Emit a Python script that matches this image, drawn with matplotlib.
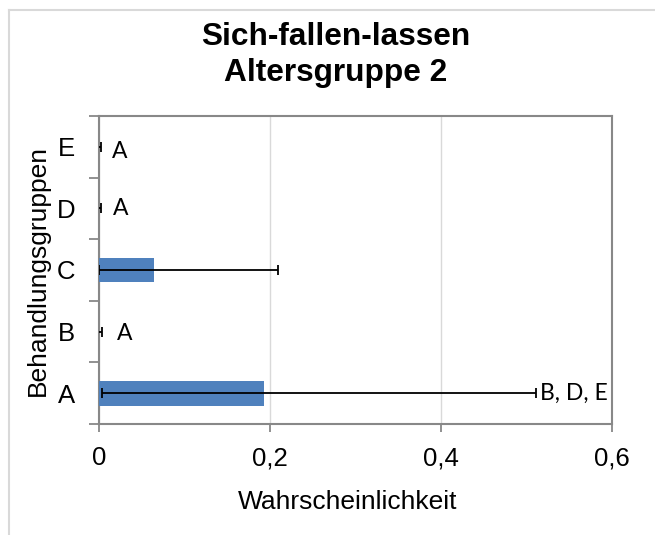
import matplotlib
matplotlib.use('Agg')
from matplotlib import pyplot as plt
from matplotlib.lines import Line2D

# data
groups = ['A', 'B', 'C', 'D', 'E']
probs = [0.193, 0.0, 0.064, 0.0, 0.0]
err_low = [0.189, 0.004, 0.064, 0.002, 0.002]
err_high = [0.318, 0.004, 0.145, 0.002, 0.002]
letters = ['B, D, E', 'A', '', 'A', 'A']
letter_x = [0.516, 0.021, 0, 0.016, 0.015]
letter_dy = [0.0, -0.03, 0, 0.0, -0.07]
xticks = [0, 0.2, 0.4, 0.6]
xtick_labels = ['0', '0,2', '0,4', '0,6']

W, H = 655, 535
fig = plt.figure(figsize=(W / 100, H / 100), dpi=100)
ax = fig.add_axes([99 / W, (H - 424) / H, (612 - 99) / W, (424 - 116) / H])

ypos = list(range(len(groups)))
ax.barh(ypos, probs, height=0.4, color='#4f81bd', zorder=3)
ax.errorbar(probs, ypos, xerr=[err_low, err_high], fmt='none', ecolor='black',
            elinewidth=1.3, capsize=3.6, capthick=1.3, zorder=4)

for y, (txt, x, dy) in enumerate(zip(letters, letter_x, letter_dy)):
    if txt:
        ax.text(x, y + dy, txt, ha='left', va='center', fontsize=16.5,
                family=['Lato', 'DejaVu Sans'])

ax.set_xlim(0, 0.6)
ax.set_ylim(-0.5, 4.5)
ax.set_xticks(xticks)
ax.set_xticklabels(xtick_labels, family='Liberation Sans', fontsize=18.5)
ax.set_yticks(ypos)
ax.set_yticklabels(groups, family='Liberation Sans', fontsize=18.5)
ax.set_yticks([i - 0.5 for i in range(len(groups) + 1)], minor=True)
ax.tick_params(axis='y', which='major', length=0, pad=17)
ax.tick_params(axis='y', which='minor', length=7, width=1.3, color='#888888')
ax.tick_params(axis='x', which='major', length=6, width=1.3, color='#888888', pad=10)

ax.grid(axis='x', color='#d9d9d9', linewidth=1, zorder=0)
for s in ax.spines.values():
    s.set_color('#888888')
    s.set_linewidth(1.5)

ax.set_xlabel('Wahrscheinlichkeit', family='Liberation Sans', fontsize=19, labelpad=14)
ax.xaxis.label.set_x(0.484)  # label sits a bit left of the plot centre
ax.set_ylabel('Behandlungsgruppen', family='Liberation Sans', fontsize=19, labelpad=5)

fig.text(336 / W, 1 - 55 / H, 'Sich-fallen-lassen\nAltersgruppe 2', ha='center', va='center',
         family='Liberation Sans', fontweight='bold', fontsize=22.8, linespacing=1.25)

# outer chart border (only top and left are inside the picture)
fig.add_artist(Line2D([9 / W, 1], [1 - 10 / H, 1 - 10 / H], color='#d9d9d9', lw=1.5))
fig.add_artist(Line2D([9 / W, 9 / W], [0, 1 - 10 / H], color='#d9d9d9', lw=1.5))

fig.savefig('out.png', dpi=100)
